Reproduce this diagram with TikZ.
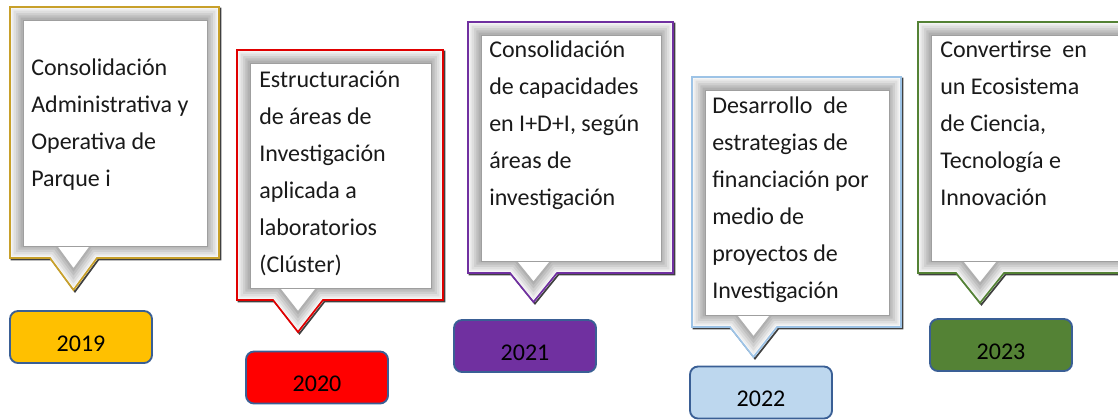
\documentclass[tikz,border=0pt]{standalone}
\usepackage{fontspec}
\setmainfont{Carlito}
\definecolor{cgold}{HTML}{C8A02A}
\definecolor{cred}{HTML}{E00000}
\definecolor{cpurple}{HTML}{7030A0}
\definecolor{cltblue}{HTML}{9DC3E6}
\definecolor{cgreen}{HTML}{548235}
\definecolor{fgold}{HTML}{FFC000}
\definecolor{fred}{HTML}{FF0000}
\definecolor{fpurple}{HTML}{7030A0}
\definecolor{fltblue}{HTML}{BDD7EE}
\definecolor{fgreen}{HTML}{548235}
\definecolor{yborder}{HTML}{3A5F95}
\definecolor{txtc}{HTML}{1A1A1A}
% #1 x1, #2 y1, #3 x2, #4 y2, #5 pointer left, #6 pointer right, #7 tip y, #8 colour
\newcommand\callout[8]{%
  \draw[black!75, line width=1.3pt, shift={(1.5,1.5)}]
    (#1,#2) -- (#3,#2) -- (#3,#4) -- (#6,#4) -- ({(#5+#6)/2},#7) -- (#5,#4) -- (#1,#4) -- cycle;
  \begin{scope}
    \clip (#1,#2) -- (#3,#2) -- (#3,#4) -- (#6,#4) -- ({(#5+#6)/2},#7) -- (#5,#4) -- (#1,#4) -- cycle;
    \fill[white] (#1,#2) -- (#3,#2) -- (#3,#4) -- (#6,#4) -- ({(#5+#6)/2},#7) -- (#5,#4) -- (#1,#4) -- cycle;
    \foreach \w/\g in {19.5/62,16/50,12.5/38,9/26,5.5/14,2.5/4}{
      \draw[line width=\w pt, gray!\g]
        (#1,#2) -- (#3,#2) -- (#3,#4) -- (#6,#4) -- ({(#5+#6)/2},#7) -- (#5,#4) -- (#1,#4) -- cycle;
    }
  \end{scope}
  \fill[white, draw=gray!75, line width=0.6pt] (#1+13,#2+13) rectangle (#3-12,#4-12);
  \draw[#8, line width=1.3pt]
    (#1,#2) -- (#3,#2) -- (#3,#4) -- (#6,#4) -- ({(#5+#6)/2},#7) -- (#5,#4) -- (#1,#4) -- cycle;
}
\tikzset{
  txt/.style={anchor=north west, inner sep=0pt, align=left, text=txtc,
    font=\fontsize{18pt}{27.7pt}\selectfont},
  yearbox/.style={draw=yborder, line width=1.4pt, rounded corners=6pt,
    minimum width=106.5pt, minimum height=39pt, inner sep=0pt, text=black,
    text height=21pt, text depth=0pt,
    font=\fontsize{18pt}{20pt}\selectfont},
}
\begin{document}
\begin{tikzpicture}[x=0.75pt,y=-0.75pt]
\useasboundingbox (0,0) rectangle (1118,419);

\callout{10}{7}{219}{258}{50}{97}{290}{cgold}
\callout{237}{50}{443}{300}{273}{323}{332}{cred}
\callout{468}{22}{673}{273}{510}{557}{302}{cpurple}
\callout{692}{77}{901}{327}{730}{777}{357}{cltblue}
\callout{918}{22}{1135}{273}{956}{1004}{303}{cgreen}

\node[txt] (t1) at (31,59) {Consolidación\\Administrativa y\\Operativa de\\Parque i};
\node[txt] (t2) at (259,71) {Estructuración\\de áreas de\\Investigación\\aplicada a\\laboratorios\\(Clúster)};
\node[txt] (t3) at (489,41) {Consolidación\\de capacidades\\en I+D+I, según\\áreas de\\investigación};
\node[txt] (t4) at (712,97) {Desarrollo\ \ de\\estrategias\ de\\financiación por\\medio de\\proyectos de\\Investigación};
\node[txt] (t5) at (940,41) {Convertirse\ \ en\\un Ecosistema\\de Ciencia,\\Tecnología e\\Innovación};

\node[yearbox, fill=fgold] (y1) at (81,337) {2019};
\node[yearbox, fill=fred] (y2) at (317,377.5) {2020};
\node[yearbox, fill=fpurple] (y3) at (525,346) {2021};
\node[yearbox, fill=fltblue] (y4) at (761,392.5) {2022};
\node[yearbox, fill=fgreen] (y5) at (1001,345) {2023};
\end{tikzpicture}
\end{document}
